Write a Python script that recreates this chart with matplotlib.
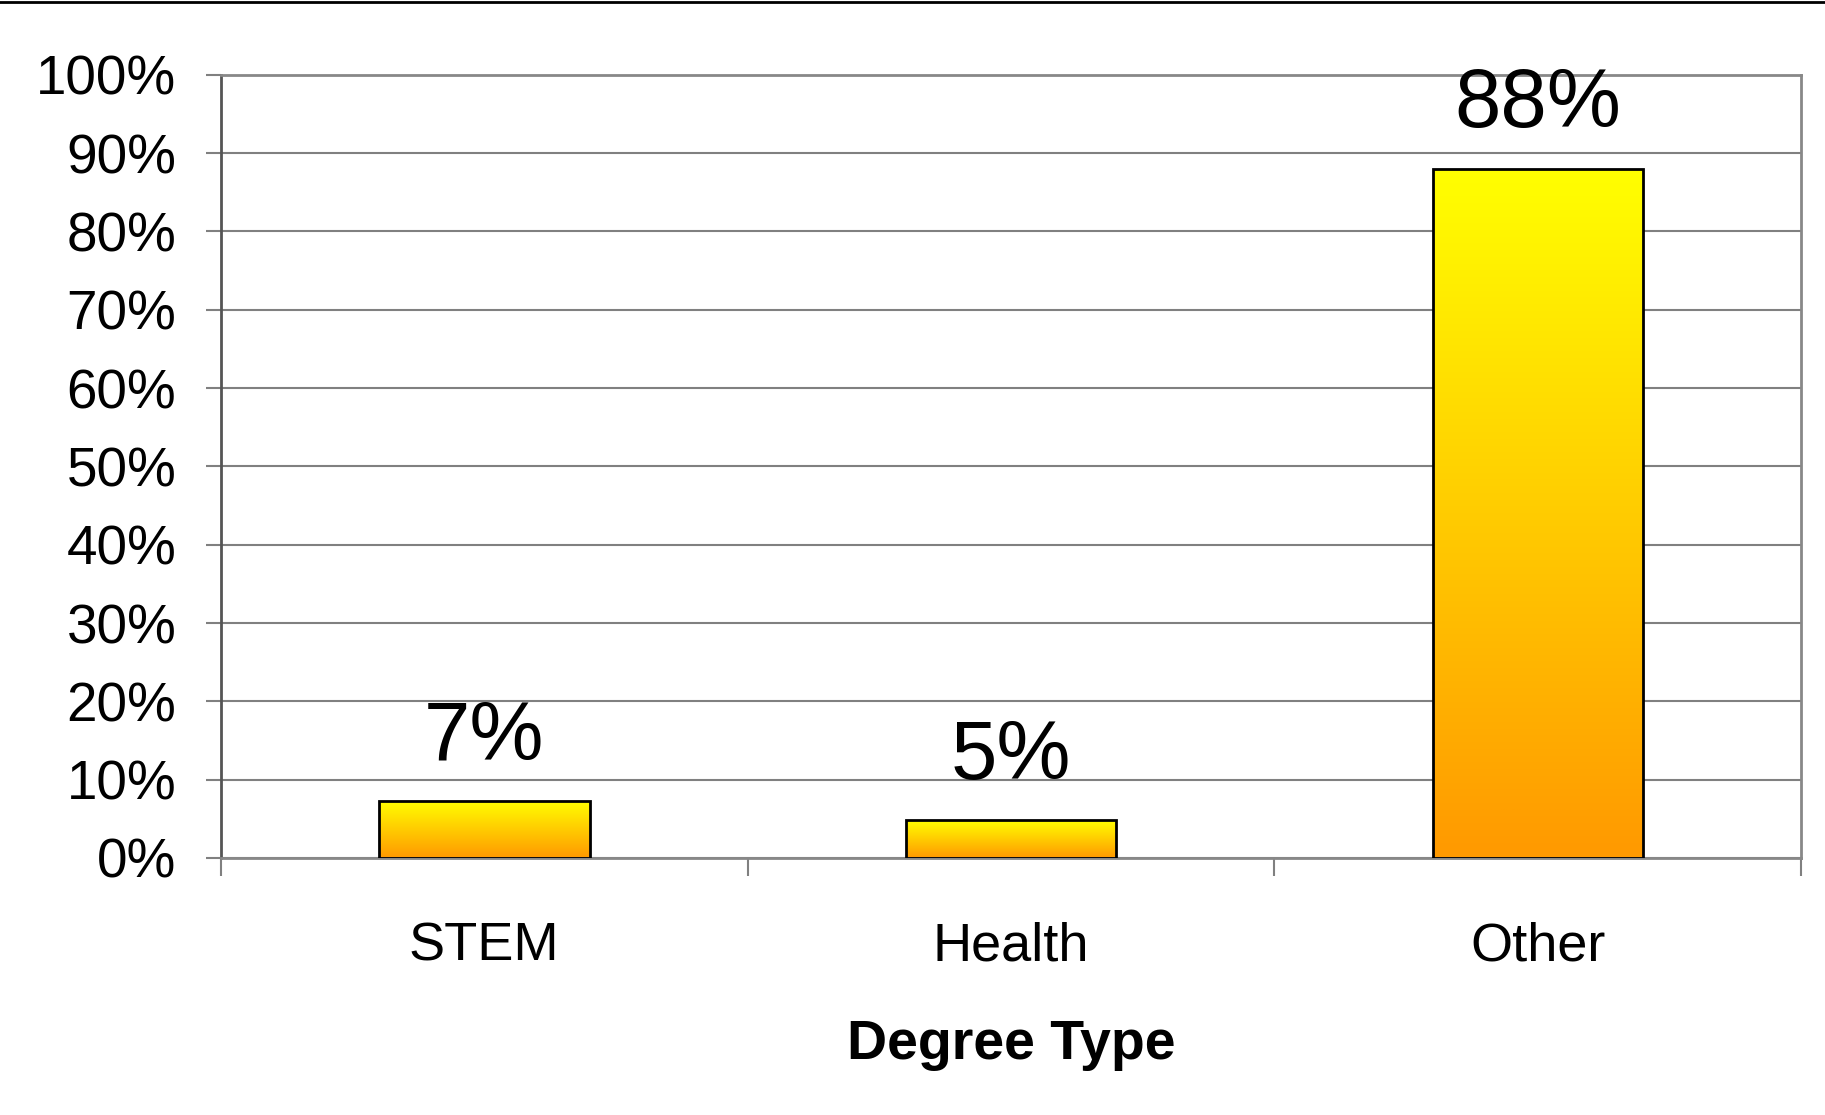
import matplotlib.pyplot as plt
import numpy as np
from matplotlib.colors import LinearSegmentedColormap
from matplotlib.lines import Line2D
from matplotlib.patches import Rectangle

categories = ['STEM', 'Health', 'Other']
shares = [0.073, 0.048, 0.88]
y_ticks = [0.0, 0.1, 0.2, 0.3, 0.4, 0.5, 0.6, 0.7, 0.8, 0.9, 1.0]

plt.rcParams['font.family'] = ['Liberation Sans', 'DejaVu Sans']

fig = plt.figure(figsize=(18.25, 11.15), dpi=100)
ax = fig.add_axes([0.121, 0.2305, 0.866, 0.7025])

# orange at the base fading to yellow at the top of every bar
grad = LinearSegmentedColormap.from_list('bar', ['#ff9900', '#ffcc00', '#ffff00'])
ramp = np.linspace(0, 1, 256).reshape(-1, 1)

x = np.arange(len(categories))
width = 0.4
bars = ax.bar(x, shares, width, color='none', edgecolor='black', linewidth=2, zorder=3)
for b in bars:
    x0, y0 = b.get_x(), b.get_y()
    w, h = b.get_width(), b.get_height()
    im = ax.imshow(ramp, cmap=grad, origin='lower', aspect='auto',
                   extent=[x0, x0 + w, y0, y0 + h], zorder=2)
    clip = Rectangle((x0, y0), w, h, transform=ax.transData)
    im.set_clip_path(clip)

for xi, v in zip(x, shares):
    ax.annotate(f'{v * 100:.0f}%', (xi, v), xytext=(0, 30), textcoords='offset points',
                ha='center', va='baseline', fontsize=60)

ax.set_xlim(-0.5, len(categories) - 0.5)
ax.set_ylim(0, 1)
ax.set_yticks(y_ticks)
ax.set_yticklabels([f'{t * 100:.0f}%' for t in y_ticks], fontsize=39.5)
ax.yaxis.grid(True, color='#808080', linewidth=1.5, zorder=0)
ax.set_axisbelow(True)

ax.set_xticks(x)
ax.set_xticklabels(categories, fontsize=39)
ax.set_xticks(np.arange(len(categories) + 1) - 0.5, minor=True)
ax.tick_params(axis='x', which='major', length=0, pad=46)
ax.tick_params(axis='x', which='minor', length=13, width=1.5, color='#808080')
ax.tick_params(axis='y', length=11, width=1.5, color='#808080', pad=21)
ax.set_xlabel('Degree Type', fontsize=40, fontweight='bold', labelpad=34)

for side in ['top', 'right', 'bottom']:
    ax.spines[side].set_color('#888888')
    ax.spines[side].set_linewidth(2)
ax.spines['left'].set_color('#555555')
ax.spines['left'].set_linewidth(2)

fig.add_artist(Line2D([0, 1], [0.998, 0.998], color='black', linewidth=2,
                      transform=fig.transFigure))

fig.savefig('out.png', dpi=100, facecolor='white')
